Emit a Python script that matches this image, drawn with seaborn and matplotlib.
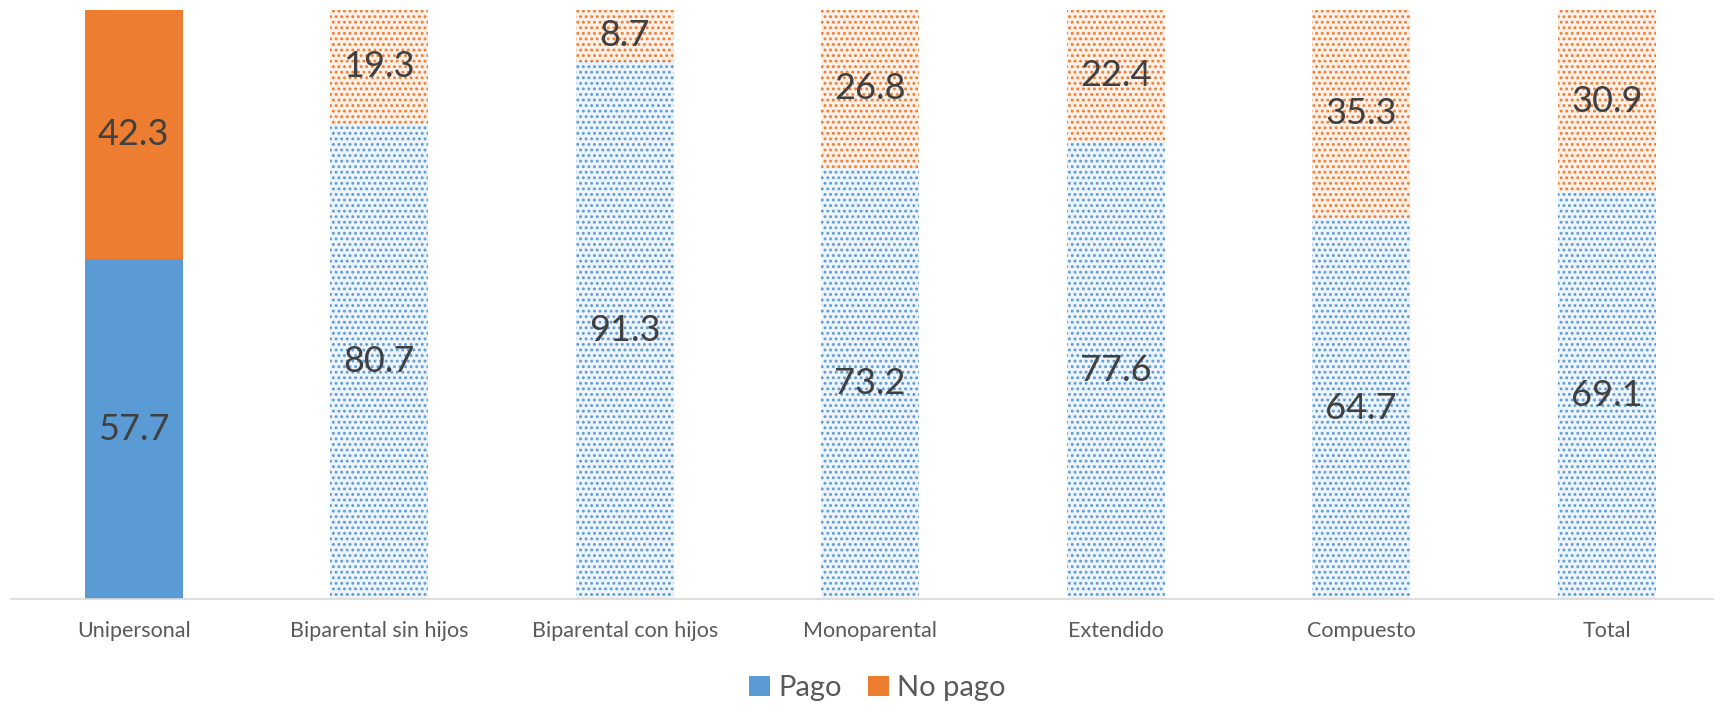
import matplotlib
matplotlib.use("Agg")
import matplotlib.pyplot as plt
import seaborn as sns
import pandas as pd
from matplotlib.patches import Patch

categories = ["Unipersonal", "Biparental sin hijos", "Biparental con hijos",
              "Monoparental", "Extendido", "Compuesto", "Total"]
pago = [57.7, 80.7, 91.3, 73.2, 77.6, 64.7, 69.1]
no_pago = [42.3, 19.3, 8.7, 26.8, 22.4, 35.3, 30.9]
series_names = ["Pago", "No pago"]

BLUE = "#5B9BD5"
ORANGE = "#ED7D31"
BLUE_TINT = "#eef4fb"
ORANGE_TINT = "#fdf0e8"

sns.set_theme(style="white")
plt.rcParams["font.family"] = ["Lato", "DejaVu Sans"]
plt.rcParams["hatch.linewidth"] = 1.3

df = pd.DataFrame({"cat": categories, "pago": pago, "no_pago": no_pago})
df["total"] = df["pago"] + df["no_pago"]

fig = plt.figure(figsize=(17.14, 7.05), dpi=100)
ax = fig.add_axes([11 / 1714, (705 - 599) / 705, (1714 - 11) / 1714, 589 / 705])

sns.barplot(data=df, x="cat", y="total", color=ORANGE, width=0.4, ax=ax,
            saturation=1, linewidth=0)
sns.barplot(data=df, x="cat", y="pago", color=BLUE, width=0.4, ax=ax,
            saturation=1, linewidth=0)

n = len(categories)
orange_bars = ax.patches[:n]
blue_bars = ax.patches[n:2 * n]
for i in range(1, n):
    for bar, base, tint in ((orange_bars[i], ORANGE, ORANGE_TINT),
                            (blue_bars[i], BLUE, BLUE_TINT)):
        bar.set_facecolor(tint)
        bar.set_edgecolor(base)
        bar.set_hatch("...")
        bar.set_linewidth(0)

for i in range(n):
    ax.text(i, pago[i] / 2, f"{pago[i]:.1f}", ha="center", va="center",
            fontsize=26, color="#404040")
    ax.text(i, pago[i] + no_pago[i] / 2, f"{no_pago[i]:.1f}", ha="center",
            va="center", fontsize=26, color="#404040")

ax.set_ylim(0, 100)
ax.set_xlim(-0.5, -0.5 + 1703 / 245.5)
ax.set_xlabel("")
ax.set_ylabel("")
ax.set_yticks([])
ax.tick_params(axis="x", length=0, labelsize=15.5, labelcolor="#595959", pad=16)
for s in ["top", "right", "left"]:
    ax.spines[s].set_visible(False)
ax.spines["bottom"].set_color("#d9d9d9")
ax.spines["bottom"].set_linewidth(1.2)

handles = [Patch(facecolor=BLUE, edgecolor="none"),
           Patch(facecolor=ORANGE, edgecolor="none")]
fig.legend(handles, series_names, loc="center", bbox_to_anchor=(0.512, 1 - 688 / 705),
           ncol=2, frameon=False, fontsize=21, labelcolor="#595959",
           handlelength=0.7, handleheight=0.7, handletextpad=0.3,
           columnspacing=0.9)

fig.savefig("out.png", dpi=100)
